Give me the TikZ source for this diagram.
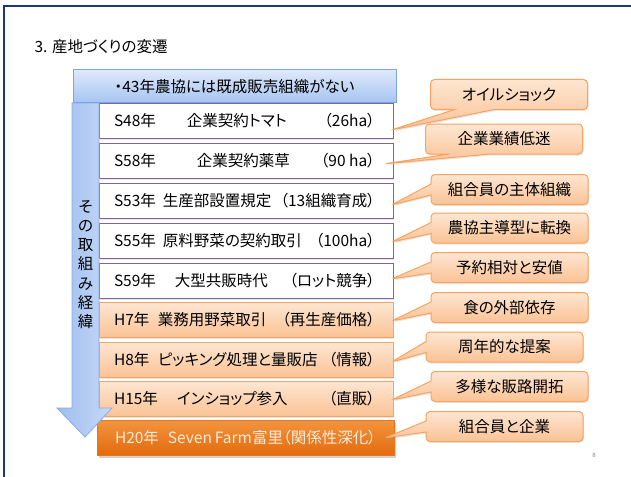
\documentclass[tikz,border=0pt]{standalone}
\usepackage{fontspec}
\setmainfont{Noto Sans CJK JP}[RawFeature={+palt}]
\usetikzlibrary{shapes.callouts,shadows,calc}
\definecolor{framec}{RGB}{30,55,120}
\definecolor{hdrtop}{RGB}{222,233,251}
\definecolor{hdrbot}{RGB}{166,196,242}
\definecolor{hdrline}{RGB}{128,164,222}
\definecolor{arrleft}{RGB}{160,190,240}
\definecolor{arrright}{RGB}{198,216,248}
\definecolor{arrline}{RGB}{140,170,225}
\definecolor{purp}{RGB}{128,100,162}
\definecolor{ortop}{RGB}{253,230,210}
\definecolor{orbot}{RGB}{251,194,148}
\definecolor{orline}{RGB}{248,164,96}
\definecolor{darktop}{RGB}{243,148,62}
\definecolor{darkbot}{RGB}{226,106,12}
\definecolor{darkline}{RGB}{228,118,30}
\definecolor{darktext}{RGB}{253,236,222}
\newcommand\rowtxt[4]{\hbox to 294pt{\hspace{15pt}\rlap{#1}\hspace{#2}#3\hfill#4\hspace{18pt}}}
\tikzset{
  jp/.style={font=\fontsize{15.5}{18}\selectfont},
  whiterow/.style={jp, draw=purp, line width=0.8pt, fill=white, inner sep=0pt,
    minimum width=294pt, minimum height=35pt,
    drop shadow={opacity=0.18,shadow xshift=1pt,shadow yshift=-1.5pt}},
  orrow/.style={jp, draw=orline, line width=1pt, top color=ortop, bottom color=orbot,
    inner sep=0pt, minimum width=294pt, minimum height=35pt,
    drop shadow={opacity=0.2,shadow xshift=1pt,shadow yshift=-1.5pt}},
  darkrow/.style={jp, draw=darkline, line width=1pt, top color=darktop, bottom color=darkbot,
    text=darktext, inner sep=0pt, minimum width=297pt, minimum height=35pt,
    drop shadow={opacity=0.35,shadow xshift=1.5pt,shadow yshift=-2pt}},
  hdrbox/.style={jp, draw=hdrline, line width=1pt, top color=hdrtop, bottom color=hdrbot,
    inner sep=0pt, minimum width=323pt, minimum height=33pt},
  callbox/.style={jp, rectangle callout, draw=orline, line width=1pt, rounded corners=4pt,
    top color=ortop, bottom color=orbot, inner sep=0pt,
    minimum width=157pt, minimum height=30pt, callout pointer width=11pt,
    drop shadow={opacity=0.2,shadow xshift=1pt,shadow yshift=-1.5pt}},
}
\begin{document}
\begin{tikzpicture}[x=1pt,y=-1pt]
\useasboundingbox (0,0) rectangle (631,476);
\fill[white] (0,0) rectangle (631,476);
\draw[framec, line width=2pt, line join=miter] (4,477) -- (4,6) -- (632,6);

\node[jp, anchor=west] (title) at (31,47) {3. 産地づくりの変遷};

% rows
\node[whiterow] (r1) at (246,121) {\rowtxt{S48年}{73pt}{企業契約トマト}{（26ha）}};
\node[whiterow] (r2) at (246,161) {\rowtxt{S58年}{83pt}{企業契約薬草}{（90 ha）}};
\node[whiterow] (r3) at (246,201) {\rowtxt{S53年}{49pt}{生産部設置規定}{（13組織育成）}};
\node[whiterow] (r4) at (246,241) {\rowtxt{S55年}{49pt}{原料野菜の契約取引}{（100ha）}};
\node[whiterow] (r5) at (246,281) {\rowtxt{S59年}{61pt}{大型共販時代}{（ロット競争）}};
\node[orrow] (r6) at (246,320) {\rowtxt{H7年}{44pt}{業務用野菜取引}{（再生産価格）}};
\node[orrow] (r7) at (246,360) {\rowtxt{H8年}{44pt}{ピッキング処理と量販店}{（情報）}};
\node[orrow] (r8) at (246,399) {\rowtxt{H15年}{63pt}{インショップ参入}{（直販）}};
\node[darkrow] (r9) at (245.5,438) {\hbox to 297pt{\hspace{18pt}\rlap{H20年}\hspace{53pt}Seven Farm富里\hfill（関係性深化）\hspace{18pt}}};

% arrow
\shade[left color=arrleft, right color=arrright, draw=arrline, line width=0.8pt, line join=miter]
  (72,103) -- (99,103) -- (99,408) -- (112,408) -- (85,437) -- (57,408) -- (72,408) -- cycle;
\node[font=\fontsize{15.5}{19.2}\selectfont, align=center, inner sep=0pt] (vtext) at (85.5,264.5)
  {そ\\の\\取\\組\\み\\経\\緯};

% header
\node[hdrbox] (hdr) at (234.5,86.5) {・43年農協には既成販売組織がない};

% callouts
\node[callbox, callout pointer width=40pt, callout absolute pointer={([shift={(-2,9)}]r1.east)}] (c1) at (509,94.5) {オイルショック};
\node[callbox, callout pointer width=40pt, callout absolute pointer={([shift={(-10,3)}]r2.east)}] (c2) at (504,139) {企業業績低迷};
\node[callbox, callout absolute pointer={([shift={(-2,4)}]r3.east)}] (c3) at (509.5,189.5) {組合員の主体組織};
\node[callbox, callout absolute pointer={([shift={(-2,1)}]r4.east)}] (c4) at (509.5,228) {農協主導型に転換};
\node[callbox, callout absolute pointer={([shift={(-2,-2)}]r5.east)}] (c5) at (509.5,267.5) {予約相対と安値};
\node[callbox, callout absolute pointer={([shift={(-2,1)}]r6.east)}] (c6) at (509.5,307.5) {食の外部依存};
\node[callbox, callout absolute pointer={([shift={(-2,2)}]r7.east)}] (c7) at (504.5,347) {周年的な提案};
\node[callbox, callout absolute pointer={([shift={(-2,1)}]r8.east)}] (c8) at (509.5,386.5) {多様な販路開拓};
\node[callbox, callout absolute pointer={([shift={(-10,0)}]r9.east)}] (c9) at (504.5,426.5) {組合員と企業};

\node[font=\fontsize{6}{7}\selectfont, text=gray] (pg) at (594,455) {8};
\end{tikzpicture}
\end{document}
